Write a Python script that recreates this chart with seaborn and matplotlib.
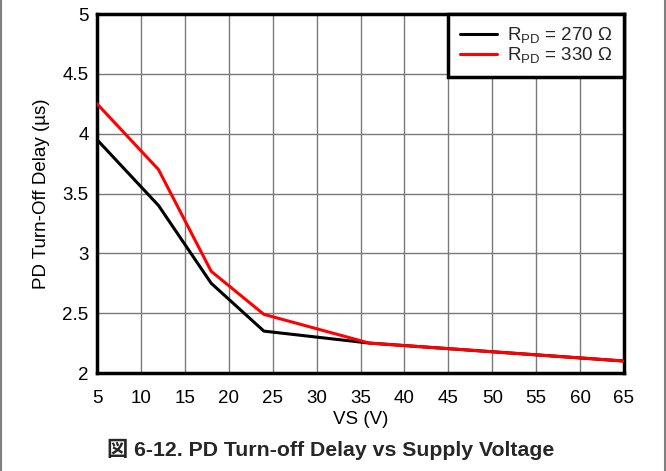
import matplotlib
matplotlib.use("Agg")
import matplotlib.pyplot as plt
import matplotlib.lines as mlines
import seaborn as sns
import pandas as pd

vs = [5, 12, 18, 24, 36, 65]
delay_270 = [3.95, 3.40, 2.75, 2.35, 2.25, 2.10]
delay_330 = [4.25, 3.70, 2.85, 2.49, 2.25, 2.10]
label_270 = r"R$_{\mathregular{PD}}$ = 270 Ω"
label_330 = r"R$_{\mathregular{PD}}$ = 330 Ω"
x_ticks = list(range(5, 70, 5))
y_ticks = [2, 2.5, 3, 3.5, 4, 4.5, 5]
y_tick_labels = ["2", "2.5", "3", "3.5", "4", "4.5", "5"]

sns.set_theme(style="white")
plt.rcParams["font.family"] = ["Liberation Sans", "Noto Sans CJK JP", "DejaVu Sans"]
plt.rcParams["mathtext.fontset"] = "custom"
plt.rcParams["mathtext.rm"] = "Liberation Sans"
plt.rcParams["mathtext.it"] = "Liberation Sans"

df = pd.DataFrame({
    "VS": vs + vs,
    "Delay": delay_270 + delay_330,
    "Series": [label_270] * len(vs) + [label_330] * len(vs),
})

fig = plt.figure(figsize=(6.66, 4.71), dpi=100)
ax = fig.add_axes([97 / 666, 1 - 373 / 471, (624 - 97) / 666, (373 - 14) / 471])

sns.lineplot(data=df, x="VS", y="Delay", hue="Series",
             palette={label_270: "black", label_330: "#ff0000"},
             linewidth=2.2, ax=ax, legend=False, zorder=3)

ax.set_xlim(5, 65)
ax.set_ylim(2, 5)
ax.set_xticks(x_ticks)
ax.set_yticks(y_ticks)
ax.set_yticklabels(y_tick_labels)
ax.tick_params(axis="both", labelsize=13.5, length=0, colors="black")
ax.tick_params(axis="y", pad=6)
ax.tick_params(axis="x", pad=12)
ax.grid(True, color="#7a7a7a", linewidth=1)
ax.set_axisbelow(True)
for s in ax.spines.values():
    s.set_visible(True)
    s.set_color("black")
    s.set_linewidth(2.5)

ax.set_xlabel("VS (V)", fontsize=13.5, labelpad=3, color="black")
ax.set_ylabel("PD Turn-Off Delay (µs)", fontsize=13.5, labelpad=9, color="black")

handles = [mlines.Line2D([], [], color="black", lw=2.2, label=label_270),
           mlines.Line2D([], [], color="#ff0000", lw=2.2, label=label_330)]
leg = ax.legend(handles=handles, loc="upper right", fontsize=13.5,
                frameon=True, fancybox=False, framealpha=1,
                borderaxespad=0, handlelength=2.0, handletextpad=0.55,
                labelspacing=0.0, borderpad=0.6)
leg.get_frame().set_edgecolor("black")
leg.get_frame().set_linewidth(2.5)
leg.set_zorder(5)

fig.text(0.5 * (107 + 555) / 666, 1 - 449 / 471, "図 6-12. PD Turn-off Delay vs Supply Voltage",
         ha="center", va="center", fontsize=15.3, fontweight="bold",
         family=["Liberation Sans", "Noto Sans CJK JP"])

fig.add_artist(mlines.Line2D([0.5 / 666, 0.5 / 666], [0, 1], color="#808080", lw=1.5,
                             transform=fig.transFigure))
fig.add_artist(mlines.Line2D([664.5 / 666, 664.5 / 666], [0, 1], color="#808080", lw=1.5,
                             transform=fig.transFigure))

fig.savefig("out.png", dpi=100)
